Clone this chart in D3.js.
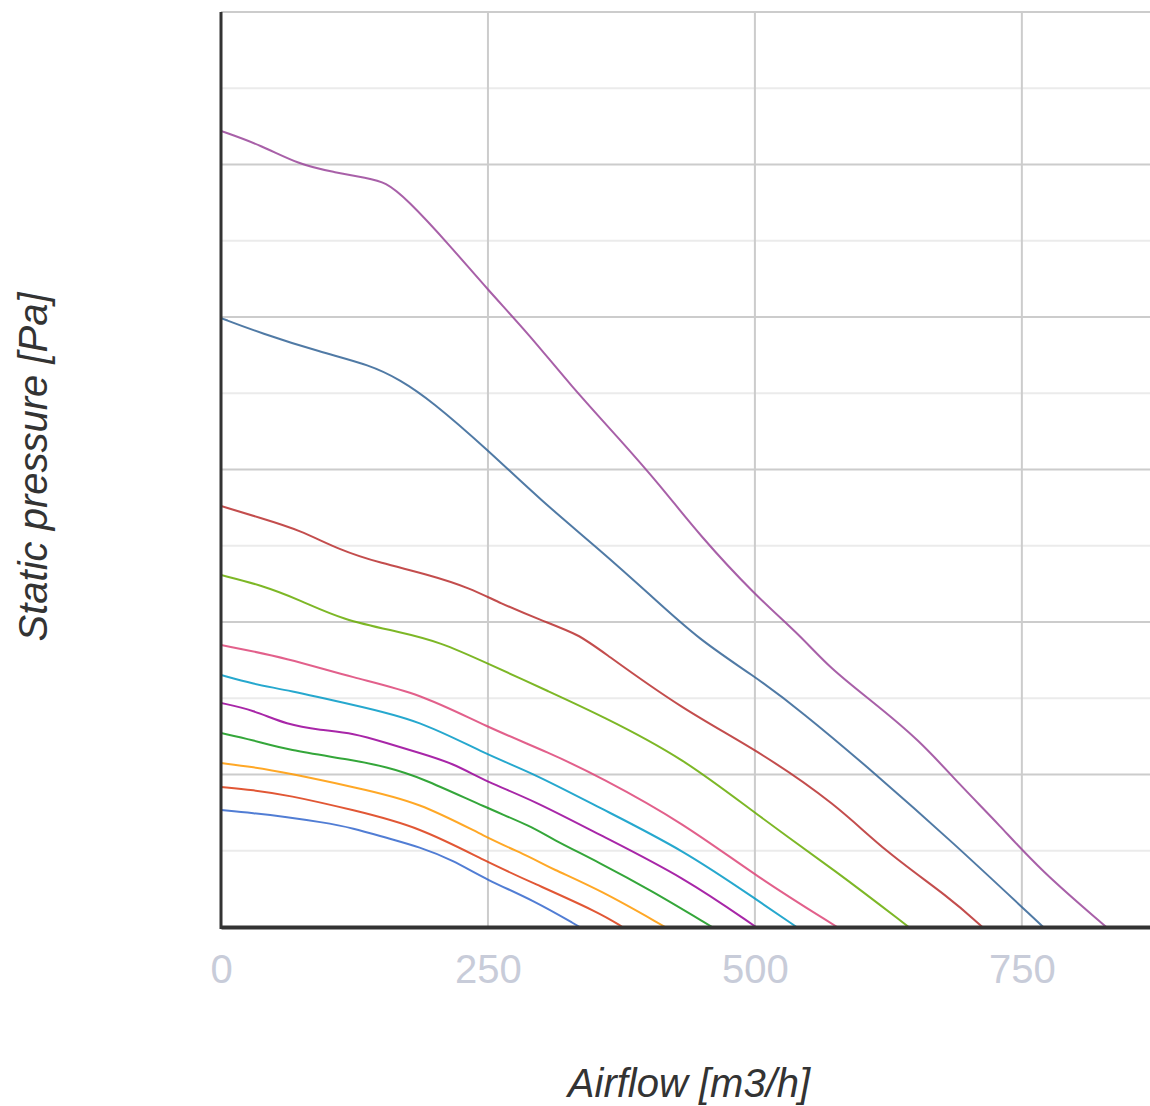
<!DOCTYPE html>
<html>
<head>
<meta charset="utf-8">
<script src="https://cdn.jsdelivr.net/npm/d3@7"></script>
<style>
  html, body { margin: 0; padding: 0; background: #ffffff; }
  svg { display: block; }
</style>
</head>
<body>
<svg id="chart" width="1150" height="1106"></svg>
<script>
// ---- Data ----
const xTicks = [0, 250, 500, 750];
const xTickLabels = ["0", "250", "500", "750"];
const yGridValues = [0, 50, 100, 150, 200, 250, 300, 350, 400, 450, 500, 550, 600];

const flow1  = [0, 30, 62, 93, 124, 155, 186, 217, 249, 292, 336];
const press1 = [76.7, 74.8, 72.1, 68.9, 64.9, 58.4, 52.5, 43.9, 30.8, 17.7, 0];

const flow2  = [0, 30, 62, 124, 186, 249, 292, 355, 376];
const press2 = [91.8, 89.8, 86.6, 76.7, 65.6, 42.6, 28.9, 9.2, 0];

const flow3  = [0, 30, 62, 124, 186, 249, 292, 308, 355, 416];
const press3 = [107.5, 104.9, 101.0, 91.8, 82.0, 58.4, 45.2, 38.7, 24.3, 0];

const flow4  = [0, 30, 62, 124, 155, 186, 249, 292, 308, 355, 402, 460];
const press4 = [127.2, 122.6, 116.1, 109.5, 104.9, 98.4, 78.0, 65.6, 58.4, 42.0, 24.3, 0];

const flow5  = [0, 30, 62, 93, 124, 155, 186, 217, 249, 292, 355, 433, 501];
const press5 = [146.9, 142.3, 132.5, 129.2, 127.2, 120.7, 114.1, 107.5, 95.1, 83.3, 60.3, 32.8, 0];

const flow6  = [0, 30, 62, 124, 186, 249, 292, 355, 433, 502, 539];
const press6 = [165.2, 159.3, 155.4, 145.6, 135.7, 112.8, 101.0, 78.0, 50.5, 17.7, 0];

const flow7  = [0, 62, 124, 186, 249, 308, 355, 433, 502, 577];
const press7 = [184.9, 176.4, 163.3, 153.4, 131.1, 114.1, 98.4, 68.2, 32.8, 0];

const flow8  = [0, 37, 74, 114, 168, 205, 249, 308, 355, 433, 502, 577, 644];
const press8 = [230.8, 224.3, 214.4, 201.3, 193.4, 186.9, 173.1, 154.1, 139.0, 110.8, 73.4, 36.1, 0];

const flow9  = [0, 37, 74, 111, 149, 196, 233, 261, 299, 336, 355, 433, 502, 577, 620, 683, 713];
const press9 = [276.1, 268.2, 260.3, 247.2, 238.7, 230.8, 222.3, 212.5, 201.3, 191.5, 181.6, 142.3, 116.1, 80.0, 50.5, 19.0, 0];

const flow10  = [0, 37, 93, 140, 168, 196, 250, 299, 355, 402, 448, 498, 542, 612, 683, 770];
const press10 = [399.3, 389.5, 377.0, 368.5, 358.7, 345.6, 312.8, 280.0, 247.2, 217.7, 188.2, 165.2, 142.3, 101.0, 57.0, 0];

const flow11  = [0, 37, 74, 105, 137, 154, 174, 214, 250, 289, 327, 374, 411, 448, 500, 542, 570, 608, 654, 692, 729, 767, 829];
const press11 = [522.0, 512.8, 499.7, 495.1, 491.1, 488.5, 477.4, 447.2, 417.7, 388.2, 355.4, 319.3, 289.8, 257.0, 217.7, 191.5, 169.8, 148.9, 122.6, 93.1, 66.9, 37.4, 0];

const seriesFlows = [flow1, flow2, flow3, flow4, flow5, flow6, flow7, flow8, flow9, flow10, flow11];
const seriesPressures = [press1, press2, press3, press4, press5, press6, press7, press8, press9, press10, press11];

const palette = ["#3366cc", "#dc3912", "#ff9900", "#109618", "#990099", "#0099c6",
                 "#dd4477", "#66aa00", "#b82e2e", "#316395", "#994499"];

// ---- Layout ----
const svg = d3.select("#chart");
const plotLeft = 221, plotRight = 1150, plotTop = 12, plotBottom = 927;

const x = d3.scaleLinear().domain([0, 870]).range([plotLeft, plotRight]);
const y = d3.scaleLinear().domain([0, 600]).range([plotBottom, plotTop]);

// horizontal grid (alternating major / minor)
svg.append("g")
  .selectAll("line")
  .data(yGridValues.slice(1))
  .join("line")
  .attr("x1", plotLeft).attr("x2", plotRight)
  .attr("y1", d => y(d)).attr("y2", d => y(d))
  .attr("stroke", d => (d % 100 === 0) ? "#cccccc" : "#ebebeb")
  .attr("stroke-width", 2);

// vertical grid
svg.append("g")
  .selectAll("line")
  .data(xTicks.slice(1))
  .join("line")
  .attr("x1", d => x(d)).attr("x2", d => x(d))
  .attr("y1", plotTop).attr("y2", plotBottom)
  .attr("stroke", "#cccccc")
  .attr("stroke-width", 2);

// curves
const line = d3.line()
  .x(d => x(d[0]))
  .y(d => y(d[1]))
  .curve(d3.curveBasis);

svg.append("clipPath").attr("id", "plotclip")
  .append("rect").attr("x", plotLeft).attr("y", plotTop)
  .attr("width", plotRight - plotLeft).attr("height", plotBottom - plotTop);

svg.append("g")
  .attr("clip-path", "url(#plotclip)")
  .selectAll("path")
  .data(seriesFlows.map((f, i) => f.map((v, j) => [v, seriesPressures[i][j]])))
  .join("path")
  .attr("d", line)
  .attr("fill", "none")
  .attr("stroke", (d, i) => palette[i])
  .attr("stroke-width", 2)
  .attr("stroke-opacity", 0.85);

// x axis
const xAxis = d3.axisBottom(x).tickValues(xTicks).tickFormat((d, i) => xTickLabels[i]).tickSize(0).tickPadding(28);
const gx = svg.append("g").attr("transform", `translate(0,${plotBottom})`).call(xAxis);
gx.select(".domain").attr("stroke", "#333333").attr("stroke-width", 4);
gx.selectAll("text")
  .attr("font-family", "Arial, 'Liberation Sans', sans-serif")
  .attr("font-size", 40)
  .attr("fill", "#c8ccd9");

// y axis line
svg.append("line")
  .attr("x1", plotLeft).attr("x2", plotLeft)
  .attr("y1", plotTop).attr("y2", plotBottom + 2)
  .attr("stroke", "#333333").attr("stroke-width", 3);

// axis titles
svg.append("text")
  .attr("x", 689).attr("y", 1097)
  .attr("text-anchor", "middle")
  .attr("font-family", "Arial, 'Liberation Sans', sans-serif")
  .attr("font-style", "italic")
  .attr("font-size", 40)
  .attr("fill", "#333333")
  .text("Airflow [m3/h]");

svg.append("text")
  .attr("transform", "translate(47,467) rotate(-90)")
  .attr("text-anchor", "middle")
  .attr("font-family", "Arial, 'Liberation Sans', sans-serif")
  .attr("font-style", "italic")
  .attr("font-size", 40)
  .attr("fill", "#333333")
  .text("Static pressure [Pa]");
</script>
</body>
</html>
